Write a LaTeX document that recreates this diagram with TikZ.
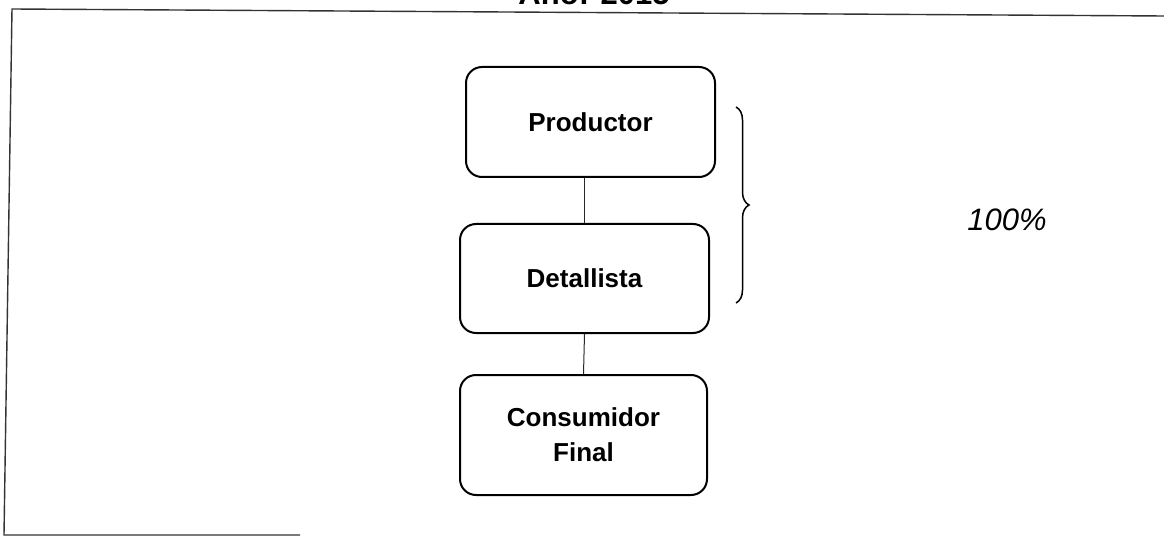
\documentclass[tikz,border=0pt]{standalone}
\usepackage{fontspec}
\setmainfont{Liberation Sans}
\usetikzlibrary{decorations.pathreplacing}
\begin{document}
\begin{tikzpicture}[x=1pt,y=-1pt,
  stagebox/.style={draw=black, line width=2pt, rounded corners=16pt, align=center,
    font=\fontsize{26}{35}\selectfont\bfseries, inner sep=0pt},
  link/.style={draw=black!85, line width=1pt},
  frameline/.style={draw=black!80, line width=1.4pt}]
\useasboundingbox (0,0) rectangle (1164,537);
\node[anchor=base, font=\fontsize{31}{31}\selectfont\bfseries] (title) at (594,5) {Año: 2015};
\draw[frameline] (1164,16) -- (12,9) -- (4,535) -- (300,535);
\node[stagebox, minimum width=249pt, minimum height=110pt] (prod) at (590.5,122) {Productor};
\node[stagebox, minimum width=249pt, minimum height=109pt] (det) at (584.5,278.5) {Detallista};
\node[stagebox, minimum width=247pt, minimum height=120pt] (cons) at (583.5,435) {Consumidor\\Final};
\draw[link] (det.north |- prod.south) -- (det.north);
\draw[link] (det.south) -- (cons.north);
\coordinate (btop) at (736,107);
\coordinate (bbot) at (736,303);
\draw[line width=1.5pt, decorate, decoration={brace, amplitude=13pt}] (btop) -- (bbot);
\node[font=\fontsize{31}{31}\selectfont\itshape] (pct) at (1007,220) {100\%};
\end{tikzpicture}
\end{document}
